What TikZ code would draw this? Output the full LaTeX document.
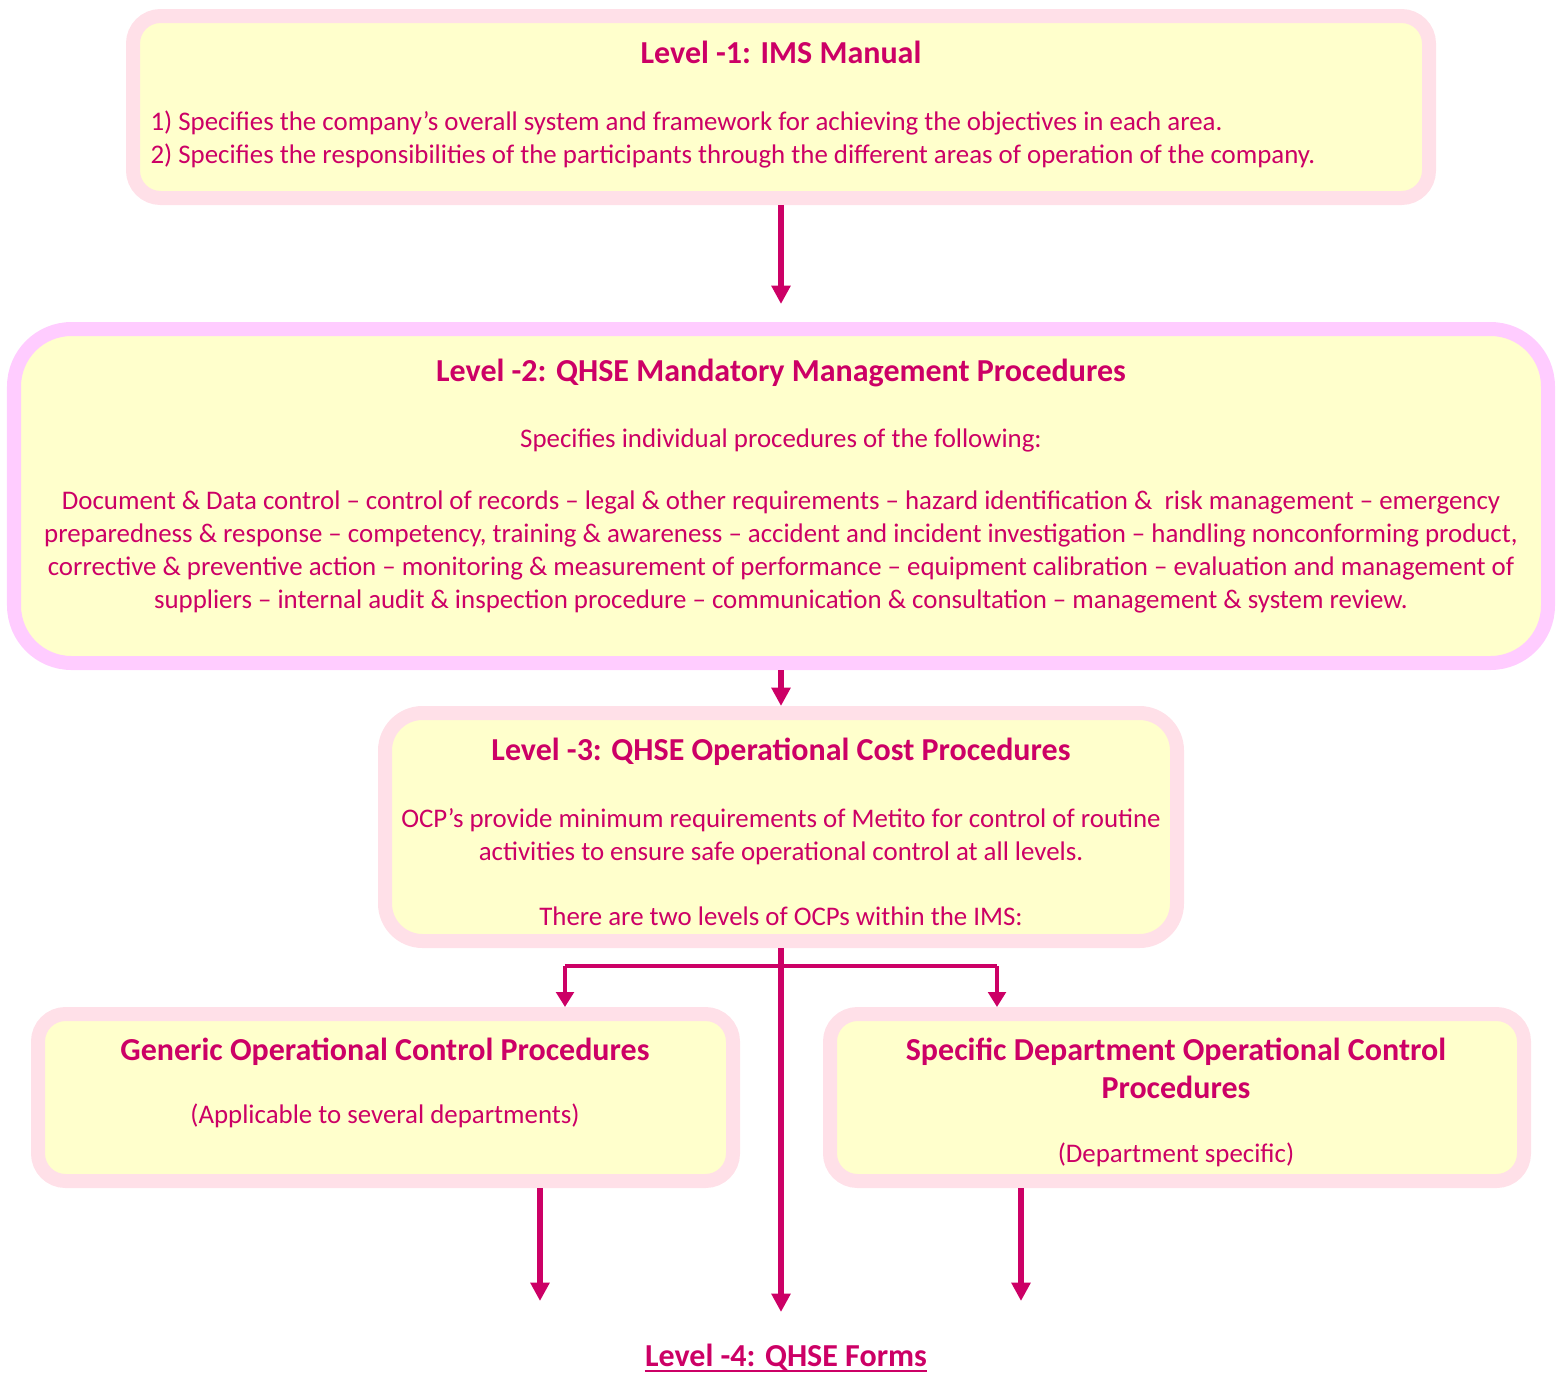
\documentclass[tikz,border=0pt]{standalone}
\usepackage{fontspec}
\setmainfont{Carlito}
\usetikzlibrary{arrows.meta,fit}

\definecolor{qhsetext}{RGB}{204,0,102}
\definecolor{qhsefill}{RGB}{255,255,204}
\definecolor{qhserim}{RGB}{255,224,232}
\definecolor{qhselilac}{RGB}{255,204,255}

\tikzset{
  lvlbox/.style={draw=qhserim, fill=qhsefill, line width=5.6pt, inner sep=0pt, rounded corners=11pt},
  lvltitle/.style={text=qhsetext, font=\bfseries\fontsize{12.8}{15.2}\selectfont, anchor=base, inner sep=0pt},
  lvltext/.style={text=qhsetext, font=\fontsize{10.75}{13.1}\selectfont, anchor=base, inner sep=0pt},
  flow/.style={draw=qhsetext, line width=2.2pt, -{Triangle[width=7.4pt,length=7.4pt]}},
  branch/.style={draw=qhsetext, line width=1.8pt},
}

\begin{document}
\begin{tikzpicture}[x=0.4pt, y=-0.4pt]
  \useasboundingbox (0,0) rectangle (1561,1374);

  % boxes of the four levels
  \node[lvlbox, fit={(133,16) (1429,198)}] (manual) {};
  \node[lvlbox, draw=qhselilac, rounded corners=23pt, fit={(14,329) (1548,663)}] (mandatory) {};
  \node[lvlbox, rounded corners=15pt, fit={(385,713) (1177,941)}] (operational) {};
  \node[lvlbox, fit={(38,1014) (733,1181)}] (generic) {};
  \node[lvlbox, fit={(830,1014) (1524,1181)}] (specific) {};

  % Level 1 (base of a multi-line node = last line)
  \node[lvltitle] (manualtitle) at (781,63) {Level -1: IMS Manual};
  \node[lvltext, anchor=base west, align=left] (manualtext) at (150,163)
    {1) Specifies the company’s overall system and framework for achieving the objectives in each area.\\
     2) Specifies the responsibilities of the participants through the different areas of operation of the company.};

  % Level 2
  \node[lvltitle] (mandatorytitle) at (781,381) {Level -2: QHSE Mandatory Management Procedures};
  \node[lvltext] (mandatoryintro) at (781,447) {Specifies individual procedures of the following:};
  \node[lvltext, align=center] (mandatorylist) at (781,608)
    {Document \& Data control – control of records – legal \& other requirements – hazard identification \&\ \ risk management – emergency\\
     preparedness \& response – competency, training \& awareness – accident and incident investigation – handling nonconforming product,\\
     corrective \& preventive action – monitoring \& measurement of performance – equipment calibration – evaluation and management of\\
     suppliers – internal audit \& inspection procedure – communication \& consultation – management \& system review.};

  % Level 3
  \node[lvltitle] (operationaltitle) at (781,760) {Level -3: QHSE Operational Cost Procedures};
  \node[lvltext, align=center] (operationaltext) at (781,860)
    {OCP’s provide minimum requirements of Metito for control of routine\\
     activities to ensure safe operational control at all levels.};
  \node[lvltext] (operationalnote) at (781,925) {There are two levels of OCPs within the IMS:};

  % OCP levels
  \node[lvltitle] (generictitle) at (385,1060) {Generic Operational Control Procedures};
  \node[lvltext] (generictext) at (385,1123) {(Applicable to several departments)};
  \node[lvltitle, align=center] (specifictitle) at (1176,1098)
    {Specific Department Operational Control\\ Procedures};
  \node[lvltext] (specifictext) at (1176,1162) {(Department specific)};

  % Level 4
  \node[lvltitle] (forms) at (786,1366) {Level -4: QHSE Forms};
  \draw[qhsetext, line width=0.8pt] ([yshift=-1.8pt]forms.base west) -- ([yshift=-1.8pt]forms.base east);

  % connectors
  \coordinate (gl) at (565,966);
  \coordinate (gr) at (997,966);
  \coordinate (g0) at (540,1301);
  \coordinate (s0) at (1021,1301);
  \coordinate (f0) at (781,1312);

  \draw[flow, shorten >=7.2pt] (manual) -- (mandatory);
  \draw[flow] (mandatory) -- (operational);
  \draw[flow, line width=2.6pt] (operational) -- (f0);
  \draw[branch] (gl) -- (gr);
  \draw[branch, -{Triangle[width=7pt,length=6pt]}] (gl) -- (gl |- generic.north);
  \draw[branch, -{Triangle[width=7pt,length=6pt]}] (gr) -- (gr |- specific.north);
  \draw[flow] (generic.south -| g0) -- (g0);
  \draw[flow] (specific.south -| s0) -- (s0);
\end{tikzpicture}
\end{document}
